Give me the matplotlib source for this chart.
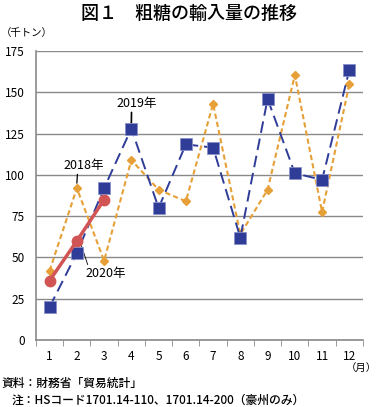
import numpy as np
import matplotlib
matplotlib.use('Agg')
import matplotlib.pyplot as plt

plt.rcParams['font.family'] = ['Noto Sans CJK JP', 'DejaVu Sans']

months = list(range(1, 13))
month_labels = [str(m) for m in months]
y2018 = [42, 92, 48, 109, 91, 84, 143, 64, 91, 160.5, 77.5, 155]
y2019 = [20, 52.7, 92, 128, 80, 118.5, 116.5, 62, 146, 101, 97, 163.5]
y2020 = [36, 60, 85]
yticks = [0, 25, 50, 75, 100, 125, 150, 175]

c_blue = '#2F3C98'
c_orange = '#E6A037'
c_red = '#D25555'

fig = plt.figure(figsize=(3.78, 4.07), dpi=100)
ax = fig.add_axes([0.0952, 0.1646, 0.865, 0.71])

ax.plot(months, y2018, color=c_orange, ls=(0, (2.5, 1.5)), lw=1.5,
        marker='D', ms=4.5, mfc=c_orange, mec=c_orange, zorder=3)
ax.plot(months, y2019, color=c_blue, ls=(0, (6, 3)), lw=1.4,
        marker='s', ms=8.5, mfc=c_blue, mec='#8890C8', mew=0.6, zorder=4)
ax.plot(months[:3], y2020, color=c_red, lw=2.5, marker='o', ms=7.5,
        mfc=c_red, mec=c_red, zorder=5)

ax.set_xlim(0.5, 12.5)
ax.set_ylim(0, 175)
ax.set_yticks(yticks)
ax.set_xticks(months)
ax.set_xticklabels(month_labels)
ax.set_xticks(np.arange(0.5, 13, 1), minor=True)
ax.tick_params(axis='x', which='major', length=0, pad=7, labelsize=8.5)
ax.tick_params(axis='x', which='minor', length=4, color='#888888')
ax.tick_params(axis='y', length=0, pad=8, labelsize=8.5)
ax.yaxis.grid(True, color='#8a8a8a', lw=1)
ax.set_axisbelow(True)
for s in ['top', 'right']:
    ax.spines[s].set_visible(False)
for s in ['left', 'bottom']:
    ax.spines[s].set_color('#8a8a8a')
    ax.spines[s].set_linewidth(1.2)

# annotations
ax.annotate('2018年', xy=(2, 95), xytext=(2.25, 102), ha='center', va='bottom',
            fontsize=9, arrowprops=dict(arrowstyle='-', color='black', lw=0.9,
                                        shrinkA=0, shrinkB=0,
                                        relpos=(0.35, 0)))
ax.annotate('2019年', xy=(4, 131), xytext=(4.2, 139.5), ha='center', va='bottom',
            fontsize=9, arrowprops=dict(arrowstyle='-', color='black', lw=1.2,
                                        shrinkA=0, shrinkB=0,
                                        relpos=(0.37, 0)))
ax.annotate('2020年', xy=(2.15, 58), xytext=(2.3, 40), ha='left', va='center',
            fontsize=9, arrowprops=dict(arrowstyle='-', color='black', lw=0.6,
                                        shrinkA=0, shrinkB=0,
                                        relpos=(0.1, 0.9)))

fig.text(0.5, 0.965, '図１　粗糖の輸入量の推移', ha='center', va='center',
         fontsize=13, fontweight='medium')
fig.text(0.003, 0.919, '（千トン）', ha='left', va='center', fontsize=7.5)
fig.text(0.998, 0.097, '（月）', ha='right', va='center', fontsize=7.5)
fig.text(0.003, 0.058, '資料：財務省「貿易統計」', ha='left', va='center',
         fontsize=8.5, fontweight='medium')
fig.text(0.03, 0.016, '注：HSコード1701.14-110、1701.14-200（豪州のみ）',
         ha='left', va='center', fontsize=8.5, fontweight='medium')

fig.savefig('out.png', dpi=100)
